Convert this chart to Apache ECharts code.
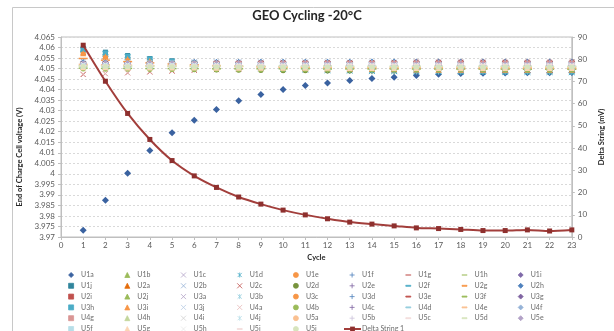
<!DOCTYPE html>
<html><head><meta charset="utf-8">
<script src="https://cdn.jsdelivr.net/npm/echarts@6/dist/echarts.min.js"></script>
<style>html,body{margin:0;padding:0;background:#fff}#c{width:614px;height:331px}</style>
</head><body><div id="c"></div>
<script>
const cycles = [1,2,3,4,5,6,7,8,9,10,11,12,13,14,15,16,17,18,19,20,21,22,23];
const U1a = [3.9732,3.9875,4.0003,4.0111,4.0195,4.0255,4.0306,4.0347,4.0377,4.0401,4.0420,4.0432,4.0443,4.0453,4.0459,4.0467,4.0473,4.0477,4.0478,4.0479,4.0480,4.0480,4.0481];
const U1b = [4.0511,4.0510,4.0510,4.0509,4.0509,4.0508,4.0508,4.0508,4.0507,4.0507,4.0507,4.0507,4.0506,4.0506,4.0506,4.0506,4.0506,4.0505,4.0505,4.0505,4.0505,4.0505,4.0505];
const U1c = [4.0524,4.0523,4.0523,4.0522,4.0522,4.0521,4.0521,4.0521,4.0520,4.0520,4.0520,4.0520,4.0520,4.0519,4.0519,4.0519,4.0519,4.0519,4.0519,4.0519,4.0518,4.0518,4.0518];
const U1d = [4.0589,4.0570,4.0555,4.0543,4.0533,4.0522,4.0514,4.0507,4.0501,4.0497,4.0494,4.0491,4.0489,4.0487,4.0486,4.0485,4.0484,4.0483,4.0483,4.0482,4.0482,4.0482,4.0481];
const U1e = [4.0580,4.0563,4.0550,4.0540,4.0532,4.0525,4.0519,4.0514,4.0510,4.0507,4.0504,4.0502,4.0500,4.0499,4.0498,4.0497,4.0496,4.0495,4.0495,4.0494,4.0494,4.0494,4.0493];
const U1f = [4.0532,4.0531,4.0531,4.0530,4.0530,4.0529,4.0529,4.0529,4.0528,4.0528,4.0528,4.0528,4.0528,4.0527,4.0527,4.0527,4.0527,4.0527,4.0527,4.0527,4.0527,4.0526,4.0526];
const U1g = [4.0528,4.0528,4.0529,4.0529,4.0530,4.0530,4.0531,4.0531,4.0531,4.0532,4.0532,4.0532,4.0532,4.0533,4.0533,4.0533,4.0533,4.0533,4.0533,4.0533,4.0534,4.0533,4.0533];
const U1h = [4.0513,4.0513,4.0512,4.0512,4.0512,4.0512,4.0511,4.0511,4.0511,4.0511,4.0511,4.0511,4.0510,4.0510,4.0510,4.0510,4.0510,4.0510,4.0510,4.0510,4.0510,4.0510,4.0510];
const U1i = [4.0518,4.0518,4.0517,4.0517,4.0517,4.0516,4.0516,4.0516,4.0516,4.0516,4.0515,4.0515,4.0515,4.0515,4.0515,4.0515,4.0515,4.0515,4.0515,4.0514,4.0514,4.0514,4.0514];
const U1j = [4.0596,4.0578,4.0562,4.0548,4.0537,4.0527,4.0519,4.0513,4.0508,4.0504,4.0501,4.0499,4.0497,4.0495,4.0494,4.0493,4.0492,4.0491,4.0491,4.0490,4.0490,4.0490,4.0489];
const U2a = [4.0577,4.0561,4.0548,4.0538,4.0530,4.0523,4.0517,4.0512,4.0508,4.0505,4.0502,4.0500,4.0498,4.0497,4.0496,4.0495,4.0494,4.0494,4.0493,4.0493,4.0493,4.0492,4.0492];
const U2b = [4.0535,4.0534,4.0534,4.0533,4.0533,4.0532,4.0532,4.0532,4.0531,4.0531,4.0531,4.0531,4.0530,4.0530,4.0530,4.0530,4.0530,4.0530,4.0530,4.0529,4.0529,4.0529,4.0529];
const U2c = [4.0472,4.0476,4.0480,4.0484,4.0488,4.0492,4.0495,4.0498,4.0500,4.0502,4.0504,4.0505,4.0506,4.0507,4.0508,4.0509,4.0509,4.0510,4.0510,4.0511,4.0511,4.0511,4.0512];
const U2d = [4.0506,4.0503,4.0500,4.0498,4.0496,4.0494,4.0493,4.0492,4.0491,4.0490,4.0490,4.0489,4.0489,4.0489,4.0488,4.0488,4.0488,4.0488,4.0488,4.0487,4.0487,4.0487,4.0487];
const U2e = [4.0515,4.0515,4.0515,4.0514,4.0514,4.0514,4.0514,4.0514,4.0513,4.0513,4.0513,4.0513,4.0513,4.0513,4.0513,4.0513,4.0512,4.0512,4.0512,4.0512,4.0512,4.0512,4.0512];
const U2f = [4.0582,4.0566,4.0552,4.0541,4.0532,4.0525,4.0519,4.0514,4.0510,4.0507,4.0505,4.0503,4.0501,4.0500,4.0499,4.0498,4.0497,4.0497,4.0496,4.0496,4.0496,4.0495,4.0495];
const U2g = [4.0548,4.0540,4.0533,4.0527,4.0522,4.0518,4.0514,4.0511,4.0509,4.0507,4.0505,4.0504,4.0503,4.0502,4.0501,4.0501,4.0500,4.0500,4.0500,4.0499,4.0499,4.0499,4.0499];
const U2h = [4.0526,4.0527,4.0527,4.0528,4.0528,4.0529,4.0529,4.0529,4.0530,4.0530,4.0530,4.0530,4.0530,4.0531,4.0531,4.0531,4.0531,4.0531,4.0531,4.0531,4.0531,4.0531,4.0531];
const U2i = [4.0522,4.0523,4.0524,4.0525,4.0526,4.0526,4.0527,4.0527,4.0528,4.0528,4.0528,4.0529,4.0529,4.0529,4.0529,4.0530,4.0530,4.0530,4.0530,4.0530,4.0530,4.0530,4.0530];
const U2j = [4.0508,4.0508,4.0507,4.0507,4.0507,4.0506,4.0506,4.0506,4.0506,4.0505,4.0505,4.0505,4.0505,4.0505,4.0505,4.0504,4.0504,4.0504,4.0504,4.0504,4.0504,4.0504,4.0504];
const U3a = [4.0520,4.0520,4.0519,4.0519,4.0519,4.0518,4.0518,4.0518,4.0518,4.0518,4.0517,4.0517,4.0517,4.0517,4.0517,4.0517,4.0517,4.0517,4.0516,4.0516,4.0516,4.0516,4.0516];
const U3b = [4.0585,4.0568,4.0553,4.0541,4.0531,4.0523,4.0516,4.0510,4.0505,4.0501,4.0498,4.0496,4.0494,4.0492,4.0491,4.0490,4.0489,4.0489,4.0488,4.0488,4.0488,4.0487,4.0487];
const U3c = [4.0575,4.0559,4.0547,4.0537,4.0529,4.0523,4.0518,4.0514,4.0511,4.0508,4.0506,4.0504,4.0503,4.0502,4.0501,4.0500,4.0500,4.0499,4.0499,4.0498,4.0498,4.0498,4.0498];
const U3d = [4.0521,4.0521,4.0520,4.0520,4.0520,4.0519,4.0519,4.0519,4.0519,4.0519,4.0518,4.0518,4.0518,4.0518,4.0518,4.0518,4.0518,4.0518,4.0518,4.0517,4.0517,4.0517,4.0517];
const U3e = [4.0525,4.0526,4.0527,4.0528,4.0529,4.0529,4.0530,4.0530,4.0531,4.0531,4.0531,4.0532,4.0532,4.0532,4.0532,4.0532,4.0533,4.0533,4.0533,4.0533,4.0533,4.0533,4.0533];
const U3f = [4.0502,4.0501,4.0501,4.0500,4.0500,4.0500,4.0499,4.0499,4.0499,4.0499,4.0499,4.0498,4.0498,4.0498,4.0498,4.0498,4.0498,4.0498,4.0498,4.0498,4.0497,4.0497,4.0497];
const U3g = [4.0512,4.0512,4.0512,4.0511,4.0511,4.0511,4.0511,4.0511,4.0510,4.0510,4.0510,4.0510,4.0510,4.0510,4.0510,4.0510,4.0510,4.0509,4.0509,4.0509,4.0509,4.0509,4.0509];
const U3h = [4.0591,4.0574,4.0559,4.0546,4.0535,4.0526,4.0518,4.0512,4.0507,4.0503,4.0500,4.0497,4.0495,4.0493,4.0492,4.0491,4.0490,4.0489,4.0489,4.0488,4.0488,4.0488,4.0487];
const U3i = [4.0573,4.0557,4.0545,4.0536,4.0528,4.0521,4.0515,4.0511,4.0507,4.0504,4.0502,4.0500,4.0499,4.0498,4.0497,4.0496,4.0495,4.0495,4.0495,4.0494,4.0494,4.0494,4.0494];
const U3j = [4.0530,4.0530,4.0529,4.0529,4.0529,4.0528,4.0528,4.0528,4.0528,4.0527,4.0527,4.0527,4.0527,4.0527,4.0527,4.0527,4.0526,4.0526,4.0526,4.0526,4.0526,4.0526,4.0526];
const U4a = [4.0474,4.0477,4.0481,4.0486,4.0491,4.0496,4.0501,4.0505,4.0509,4.0512,4.0515,4.0517,4.0519,4.0521,4.0522,4.0523,4.0524,4.0525,4.0526,4.0526,4.0527,4.0527,4.0527];
const U4b = [4.0498,4.0497,4.0497,4.0496,4.0496,4.0496,4.0495,4.0495,4.0495,4.0495,4.0495,4.0494,4.0494,4.0494,4.0494,4.0494,4.0494,4.0494,4.0494,4.0494,4.0493,4.0493,4.0493];
const U4c = [4.0509,4.0509,4.0509,4.0508,4.0508,4.0508,4.0508,4.0508,4.0508,4.0507,4.0507,4.0507,4.0507,4.0507,4.0507,4.0507,4.0507,4.0507,4.0507,4.0506,4.0506,4.0506,4.0506];
const U4d = [4.0507,4.0507,4.0506,4.0506,4.0506,4.0506,4.0506,4.0505,4.0505,4.0505,4.0505,4.0505,4.0505,4.0505,4.0505,4.0505,4.0504,4.0504,4.0504,4.0504,4.0504,4.0504,4.0504];
const U4e = [4.0520,4.0518,4.0516,4.0514,4.0512,4.0511,4.0510,4.0509,4.0508,4.0507,4.0507,4.0506,4.0506,4.0506,4.0505,4.0505,4.0505,4.0505,4.0504,4.0504,4.0504,4.0504,4.0504];
const U4f = [4.0523,4.0524,4.0524,4.0524,4.0525,4.0525,4.0525,4.0525,4.0525,4.0526,4.0526,4.0526,4.0526,4.0526,4.0526,4.0526,4.0526,4.0527,4.0527,4.0527,4.0527,4.0527,4.0527];
const U4g = [4.0518,4.0519,4.0520,4.0521,4.0521,4.0522,4.0522,4.0523,4.0523,4.0523,4.0524,4.0524,4.0524,4.0524,4.0524,4.0525,4.0525,4.0525,4.0525,4.0525,4.0525,4.0525,4.0525];
const U4h = [4.0514,4.0514,4.0514,4.0513,4.0513,4.0513,4.0513,4.0513,4.0512,4.0512,4.0512,4.0512,4.0512,4.0512,4.0512,4.0512,4.0512,4.0512,4.0511,4.0511,4.0511,4.0511,4.0511];
const U4i = [4.0517,4.0517,4.0516,4.0516,4.0516,4.0516,4.0516,4.0515,4.0515,4.0515,4.0515,4.0515,4.0515,4.0515,4.0515,4.0515,4.0514,4.0514,4.0514,4.0514,4.0514,4.0514,4.0514];
const U4j = [4.0510,4.0510,4.0510,4.0509,4.0509,4.0509,4.0509,4.0509,4.0509,4.0508,4.0508,4.0508,4.0508,4.0508,4.0508,4.0508,4.0508,4.0508,4.0508,4.0508,4.0507,4.0507,4.0507];
const U5a = [4.0512,4.0511,4.0510,4.0509,4.0508,4.0508,4.0507,4.0507,4.0506,4.0506,4.0506,4.0505,4.0505,4.0505,4.0505,4.0505,4.0504,4.0504,4.0504,4.0504,4.0504,4.0504,4.0504];
const U5b = [4.0516,4.0516,4.0516,4.0516,4.0515,4.0515,4.0515,4.0515,4.0515,4.0515,4.0515,4.0514,4.0514,4.0514,4.0514,4.0514,4.0514,4.0514,4.0514,4.0514,4.0514,4.0514,4.0514];
const U5c = [4.0516,4.0517,4.0517,4.0518,4.0518,4.0519,4.0519,4.0519,4.0520,4.0520,4.0520,4.0520,4.0520,4.0521,4.0521,4.0521,4.0521,4.0521,4.0521,4.0521,4.0521,4.0521,4.0521];
const U5d = [4.0513,4.0513,4.0513,4.0512,4.0512,4.0512,4.0512,4.0512,4.0512,4.0511,4.0511,4.0511,4.0511,4.0511,4.0511,4.0511,4.0511,4.0511,4.0511,4.0511,4.0511,4.0510,4.0510];
const U5e = [4.0520,4.0520,4.0520,4.0520,4.0519,4.0519,4.0519,4.0519,4.0519,4.0519,4.0519,4.0519,4.0518,4.0518,4.0518,4.0518,4.0518,4.0518,4.0518,4.0518,4.0518,4.0518,4.0518];
const U5f = [4.0514,4.0514,4.0514,4.0514,4.0514,4.0513,4.0513,4.0513,4.0513,4.0513,4.0513,4.0513,4.0513,4.0513,4.0513,4.0512,4.0512,4.0512,4.0512,4.0512,4.0512,4.0512,4.0512];
const U5g = [4.0506,4.0506,4.0505,4.0505,4.0505,4.0505,4.0504,4.0504,4.0504,4.0504,4.0504,4.0504,4.0503,4.0503,4.0503,4.0503,4.0503,4.0503,4.0503,4.0503,4.0503,4.0503,4.0503];
const U5h = [4.0520,4.0520,4.0519,4.0519,4.0519,4.0519,4.0519,4.0518,4.0518,4.0518,4.0518,4.0518,4.0518,4.0518,4.0518,4.0518,4.0518,4.0517,4.0517,4.0517,4.0517,4.0517,4.0517];
const U5i = [4.0515,4.0516,4.0516,4.0517,4.0517,4.0517,4.0518,4.0518,4.0518,4.0518,4.0518,4.0519,4.0519,4.0519,4.0519,4.0519,4.0519,4.0519,4.0519,4.0519,4.0519,4.0519,4.0519];
const U5j = [4.0510,4.0510,4.0509,4.0509,4.0509,4.0509,4.0508,4.0508,4.0508,4.0508,4.0508,4.0508,4.0508,4.0507,4.0507,4.0507,4.0507,4.0507,4.0507,4.0507,4.0507,4.0507,4.0507];
const deltaString1 = [86.3,70.1,55.6,43.9,34.4,27.5,22.3,18.0,14.8,12.1,9.95,8.2,6.7,5.8,5.0,4.1,3.8,3.4,2.9,2.9,3.2,2.7,3.2];
const deltaName = 'Delta String 1';
const titleText = 'GEO Cycling -20°C';
const xName = 'Cycle';
const yLeftName = 'End of Charge Cell voltage (V)';
const yRightName = 'Delta String (mV)';

const cellValues = {U1a,U1b,U1c,U1d,U1e,U1f,U1g,U1h,U1i,U1j,U2a,U2b,U2c,U2d,U2e,U2f,U2g,U2h,U2i,U2j,
  U3a,U3b,U3c,U3d,U3e,U3f,U3g,U3h,U3i,U3j,U4a,U4b,U4c,U4d,U4e,U4f,U4g,U4h,U4i,U4j,
  U5a,U5b,U5c,U5d,U5e,U5f,U5g,U5h,U5i,U5j};

// marker styles: [name, shape, colour]
const markerStyles = [
 ['U1a','D','#3A62A0'],['U1b','T','#9BBB59'],['U1c','X','#B3A2C7'],['U1d','A','#4BACC6'],['U1e','C','#F79646'],
 ['U1f','P','#4F81BD'],['U1g','d','#D99694'],['U1h','L','#C3D69B'],['U1i','D','#7F6AA8'],
 ['U1j','S','#31859C'],['U2a','T','#E46C0A'],['U2b','X','#95B3D7'],['U2c','X','#C0504D'],['U2d','C','#77933C'],
 ['U2e','P','#8064A2'],['U2f','d','#4BACC6'],['U2g','L','#F79646'],['U2h','D','#4F81BD'],
 ['U2i','S','#C0504D'],['U2j','T','#9BBB59'],['U3a','X','#B3A2C7'],['U3b','A','#93CDDD'],['U3c','C','#F79646'],
 ['U3d','P','#4F81BD'],['U3e','d','#C0504D'],['U3f','L','#9BBB59'],['U3g','D','#8064A2'],
 ['U3h','S','#4BACC6'],['U3i','T','#F79646'],['U3j','X','#B9CDE5'],['U4a','X','#E6B9B8'],['U4b','C','#9BBB59'],
 ['U4c','P','#8064A2'],['U4d','d','#93CDDD'],['U4e','L','#FAC090'],['U4f','D','#95B3D7'],
 ['U4g','S','#D99694'],['U4h','T','#C3D69B'],['U4i','X','#D0D0D0'],['U4j','A','#B7DEE8'],['U5a','C','#FAC090'],
 ['U5b','P','#CCC1DA'],['U5c','d','#F2DCDB'],['U5d','L','#D7E4BD'],['U5e','D','#B3A2C7'],
 ['U5f','S','#B7DEE8'],['U5g','T','#FCD5B5'],['U5h','X','#E8E8E8'],['U5i','d','#F2DCDB'],['U5j','C','#D7E4BD']
];
const shapes = {
  D: {symbol:'diamond', size:7, line:false},
  S: {symbol:'rect', size:5, line:false},
  T: {symbol:'triangle', size:6, line:false},
  C: {symbol:'circle', size:5, line:false},
  X: {symbol:'path://M0,0L10,10M10,0L0,10', size:5, line:true},
  A: {symbol:'path://M0,0L10,10M10,0L0,10M5,-1L5,11', size:6, line:true},
  P: {symbol:'path://M5,0L5,10M0,5L10,5', size:6, line:true},
  d: {symbol:'path://M0,0L10,0L10,2L0,2Z', size:[6,1.5], line:false},
  L: {symbol:'path://M0,0L10,0L10,2L0,2Z', size:[9,1.5], line:false}
};

const legendRows = [
 ['U1a','U1b','U1c','U1d','U1e','U1f','U1g','U1h','U1i'],
 ['U1j','U2a','U2b','U2c','U2d','U2e','U2f','U2g','U2h'],
 ['U2i','U2j','U3a','U3b','U3c','U3d','U3e','U3f','U3g'],
 ['U3h','U3i','U3j','U4a','U4b','U4c','U4d','U4e','U4f'],
 ['U4g','U4h','U4i','U4j','U5a','U5b','U5c','U5d','U5e'],
 ['U5f','U5g','U5h','U5i','U5j']
];

const FONT = 'Lato, "Liberation Sans", sans-serif';
const series = markerStyles.map(([name, shp, col]) => {
  const s = shapes[shp];
  return {
    name, type:'scatter', yAxisIndex:0,
    data: cycles.map((c,i)=>[c, cellValues[name][i]]),
    symbol: s.symbol, symbolSize: s.size,
    itemStyle: {color: col, borderColor: col, borderWidth: s.line ? 1 : 0, opacity:1},
    emphasis:{disabled:true}, silent:true
  };
});
series.push({
  name: deltaName, type:'line', yAxisIndex:1,
  data: cycles.map((c,i)=>[c, deltaString1[i]]),
  smooth: 0.25, symbol:'rect', symbolSize:5, showSymbol:true,
  lineStyle:{color:'#A23E3B', width:2},
  itemStyle:{color:'#8E302E', borderColor:'#8E302E', borderWidth:0},
  emphasis:{disabled:true}, silent:true, z:5
});

// legend laid out as 9 columns (each column its own vertical legend)
const LEG_TOP = 271, LEG_LEFT = 68.2, COL_STEP = 56.2, ROW_STEP = 10.8;
const legendText = {fontSize:7, color:'#6b6b6b', fontFamily:FONT, lineHeight:8, padding:[0,0,0,2.5]};
const legends = [];
for (let c = 0; c < 9; c++) {
  const col = legendRows.map(r => r[c]).filter(Boolean);
  legends.push({
    data: col, left: LEG_LEFT + c*COL_STEP, top: LEG_TOP, height: 90, width: 50, orient:'vertical',
    itemWidth:5, itemHeight:5, itemGap: ROW_STEP - 8, padding:0, selectedMode:false,
    itemStyle:{borderWidth:0.8}, textStyle: legendText
  });
}
legends.push({
  data:[deltaName], left: 343, top: LEG_TOP + 5*ROW_STEP, height: 20, itemWidth:17, itemHeight:6,
  padding:0, selectedMode:false,
  textStyle:{fontSize:7, color:'#6b6b6b', fontFamily:FONT, lineHeight:8, padding:[0,0,0,-4]}
});

const fmt = v => String(parseFloat(v.toFixed(4)));

const chart = echarts.init(document.getElementById('c'), null, {renderer:'canvas'});
chart.setOption({
  animation:false,
  backgroundColor:'#ffffff',
  title:{text:titleText, left:'center', top:9, padding:[0,0,0,8],
    textStyle:{fontSize:13, fontWeight:'bold', color:'#262626', fontFamily:FONT}},
  graphic:[{type:'rect', silent:true, shape:{x:12.5, y:7.5, width:700, height:400},
    style:{fill:'none', stroke:'#c8c8c8', lineWidth:1}}],
  legend: legends,
  grid:{left:61, right:37, top:37, bottom:94, show:true, borderColor:'#bfbfbf', borderWidth:1, containLabel:false},
  xAxis:{type:'value', min:0, max:23, interval:1,
    name:xName, nameLocation:'middle', nameGap:16,
    nameTextStyle:{fontSize:7.5, fontWeight:'bold', color:'#262626', fontFamily:FONT},
    axisLine:{show:true, onZero:false, lineStyle:{color:'#bfbfbf'}},
    axisTick:{show:true, length:3, lineStyle:{color:'#bfbfbf'}},
    axisLabel:{fontSize:8, color:'#595959', margin:4, fontFamily:FONT},
    splitLine:{show:false}},
  yAxis:[
    {type:'value', min:3.97, max:4.065, interval:0.005, position:'left',
     name:yLeftName, nameLocation:'middle', nameGap:36, nameRotate:90,
     nameTextStyle:{fontSize:7.5, fontWeight:'bold', color:'#262626', fontFamily:FONT, padding:[0,40,0,0]},
     axisLine:{show:true, lineStyle:{color:'#bfbfbf'}},
     axisTick:{show:true, length:3, lineStyle:{color:'#bfbfbf'}},
     axisLabel:{fontSize:8, color:'#595959', margin:6, fontFamily:FONT, formatter:fmt},
     splitLine:{show:true, lineStyle:{color:'#d9d9d9', type:[2,2], width:1}}},
    {type:'value', min:0, max:90, interval:10, position:'right',
     name:yRightName, nameLocation:'middle', nameGap:17, nameRotate:90,
     nameTextStyle:{fontSize:7.5, fontWeight:'bold', color:'#262626', fontFamily:FONT},
     axisLine:{show:true, lineStyle:{color:'#bfbfbf'}},
     axisTick:{show:true, length:3, lineStyle:{color:'#bfbfbf'}},
     axisLabel:{fontSize:8, color:'#595959', margin:6, fontFamily:FONT},
     splitLine:{show:false}}
  ],
  series
});
</script></body></html>
